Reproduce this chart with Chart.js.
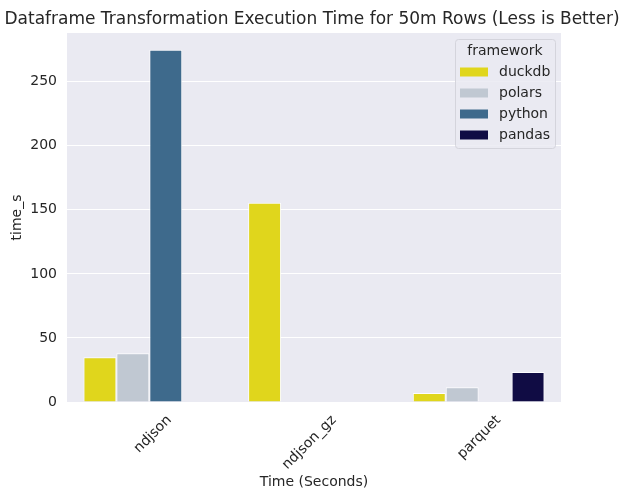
<!DOCTYPE html>
<html>
<head>
<meta charset="utf-8">
<script src="https://cdn.jsdelivr.net/npm/chart.js@4"></script>
<style>
  html, body { margin: 0; padding: 0; background: #fff; }
  #wrap { width: 624px; height: 500px; }
</style>
</head>
<body>
<div id="wrap"><canvas id="myChart" width="624" height="500"></canvas></div>
<script>
// data
const categories = ['ndjson', 'ndjson_gz', 'parquet'];
const frameworks = ['duckdb', 'polars', 'python', 'pandas'];
const duckdbTimes = [35, 155.5, 7];
const polarsTimes = [38, null, 11.5];
const pythonTimes = [275, null, null];
const pandasTimes = [null, null, 23.5];
const yTicks = [0, 50, 100, 150, 200, 250];

const colors = ['#e0d61c', '#c0c8d2', '#3e6a8c', '#100c44'];
const seriesValues = [duckdbTimes, polarsTimes, pythonTimes, pandasTimes];

const FONT = "'DejaVu Sans', sans-serif";
const TEXT = '#262626';

// grey plot area like seaborn darkgrid
const plotBg = {
    id: 'plotBg',
    beforeDraw(chart) {
        const { ctx, chartArea: a } = chart;
        ctx.save();
        ctx.fillStyle = '#eaeaf2';
        ctx.fillRect(a.left, a.top, a.right - a.left, a.bottom - a.top);
        ctx.restore();
    }
};

// legend box inside the plot, top right
const insideLegend = {
    id: 'insideLegend',
    afterDraw(chart) {
        const { ctx, chartArea: a } = chart;
        const w = 100, h = 109;
        const x = a.right - 6 - w, y = a.top + 6;
        ctx.save();
        ctx.beginPath();
        ctx.roundRect(x + 0.5, y + 0.5, w, h, 3);
        ctx.fillStyle = 'rgba(234,234,242,0.85)';
        ctx.fill();
        ctx.strokeStyle = '#d4d4dc';
        ctx.lineWidth = 1;
        ctx.stroke();
        ctx.fillStyle = TEXT;
        ctx.font = '14px ' + FONT;
        ctx.textAlign = 'center';
        ctx.textBaseline = 'middle';
        ctx.fillText('framework', x + w / 2, y + 12);
        ctx.textAlign = 'left';
        chart.data.datasets.forEach((ds, i) => {
            const ry = y + 33 + i * 21;
            ctx.fillStyle = ds.backgroundColor;
            ctx.fillRect(x + 5, ry - 4.5, 28, 9);
            ctx.fillStyle = TEXT;
            ctx.fillText(ds.label, x + 44, ry);
        });
        ctx.restore();
    }
};

const ctx = document.getElementById('myChart').getContext('2d');

new Chart(ctx, {
    type: 'bar',
    data: {
        labels: categories,
        datasets: frameworks.map((name, i) => ({
            label: name,
            data: seriesValues[i],
            backgroundColor: colors[i],
            borderColor: 'rgba(255,255,255,0.9)',
            borderWidth: 1,
            categoryPercentage: 0.8,
            barPercentage: 1.0
        }))
    },
    options: {
        responsive: false,
        animation: false,
        layout: { padding: 0 },
        plugins: {
            legend: { display: false },
            tooltip: { enabled: false },
            title: {
                display: true,
                text: 'Dataframe Transformation Execution Time for 50m Rows (Less is Better)',
                color: TEXT,
                font: { family: FONT, size: 17, weight: 'normal', lineHeight: 1.2 },
                padding: { top: 9, bottom: 3.6 }
            }
        },
        scales: {
            x: {
                grid: { display: false },
                border: { display: false },
                ticks: {
                    color: TEXT,
                    font: { family: FONT, size: 14 },
                    maxRotation: 45,
                    minRotation: 45,
                    padding: 2,
                    labelOffset: 20
                },
                title: {
                    display: true,
                    text: 'Time (Seconds)',
                    color: TEXT,
                    font: { family: FONT, size: 14 },
                    padding: { top: 0, bottom: 9 }
                },
                afterFit: (scale) => { scale.height = 98; }
            },
            y: {
                min: 0,
                max: 288,
                grid: { color: '#ffffff', lineWidth: 1, drawTicks: false },
                border: { display: false },
                afterBuildTicks: (scale) => { scale.ticks = yTicks.map(v => ({ value: v })); },
                ticks: {
                    color: TEXT,
                    font: { family: FONT, size: 14 },
                    padding: 10
                },
                title: {
                    display: true,
                    text: 'time_s',
                    color: TEXT,
                    font: { family: FONT, size: 14 },
                    padding: { top: 9, bottom: 0 }
                },
                afterFit: (scale) => { scale.width = 67; }
            },
            // empty right margin so the title centres on the whole figure
            spacer: {
                type: 'linear',
                position: 'right',
                display: true,
                grid: { display: false },
                border: { display: false },
                ticks: { display: false },
                afterFit: (scale) => { scale.width = 63; }
            }
        }
    },
    plugins: [plotBg, insideLegend]
});
</script>
</body>
</html>
